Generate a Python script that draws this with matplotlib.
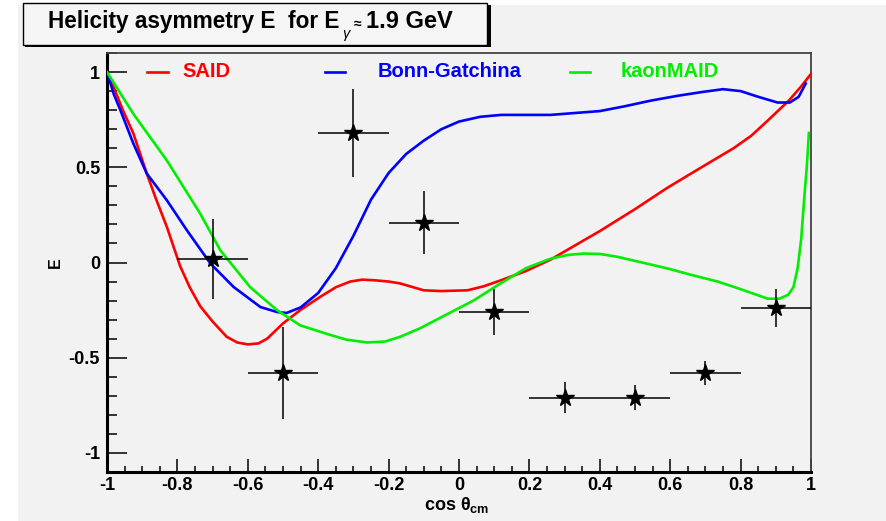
import numpy as np
import matplotlib
matplotlib.use("Agg")
import matplotlib.pyplot as plt
from matplotlib.patches import Rectangle
from matplotlib.ticker import MultipleLocator, FuncFormatter

plt.rcParams['font.family'] = ['Liberation Sans', 'DejaVu Sans']
plt.rcParams['font.weight'] = 'bold'
plt.rcParams['mathtext.fontset'] = 'custom'
plt.rcParams['mathtext.rm'] = 'Liberation Sans:bold'
plt.rcParams['mathtext.it'] = 'Liberation Sans:bold'
plt.rcParams['mathtext.bf'] = 'Liberation Sans:bold'

# data points (cos theta, E, errors)
pts_x = [-0.7, -0.5, -0.3, -0.1, 0.1, 0.3, 0.5, 0.7, 0.9]
pts_y = [0.02, -0.58, 0.68, 0.21, -0.26, -0.71, -0.71, -0.58, -0.24]
pts_yerr = [0.21, 0.24, 0.23, 0.165, 0.12, 0.08, 0.065, 0.065, 0.10]
pts_xerr = [0.1, 0.1, 0.1, 0.1, 0.1, 0.1, 0.1, 0.1, 0.1]

# model curves
said_x = [-1.0, -0.981, -0.955, -0.925, -0.887, -0.86, -0.83, -0.792, -0.765, -0.735,
          -0.7, -0.66, -0.63, -0.6, -0.57, -0.545, -0.5, -0.451, -0.394, -0.35, -0.309,
          -0.275, -0.242, -0.2, -0.167, -0.13, -0.1, -0.05, 0.024, 0.07, 0.118, 0.19,
          0.26, 0.33, 0.4, 0.5, 0.59, 0.68, 0.78, 0.83, 0.877, 0.937, 0.97, 1.0]
said_y = [1.0, 0.92, 0.80, 0.677, 0.467, 0.33, 0.187, -0.02, -0.13, -0.23,
          -0.31, -0.39, -0.42, -0.43, -0.425, -0.40, -0.32, -0.25, -0.18, -0.13, -0.10,
          -0.09, -0.093, -0.10, -0.11, -0.13, -0.146, -0.15, -0.146, -0.125, -0.094, -0.045,
          0.015, 0.09, 0.165, 0.28, 0.39, 0.49, 0.60, 0.665, 0.745, 0.85, 0.92, 0.99]

bonn_x = [-1.0, -0.981, -0.962, -0.925, -0.887, -0.83, -0.773, -0.706, -0.64, -0.564,
          -0.517, -0.49, -0.45, -0.4, -0.35, -0.3, -0.25, -0.2, -0.15, -0.1, -0.05,
          0.0, 0.06, 0.12, 0.19, 0.26, 0.33, 0.4, 0.47, 0.545, 0.62, 0.69, 0.75, 0.8,
          0.85, 0.905, 0.94, 0.965, 0.985]
bonn_y = [1.0, 0.885, 0.80, 0.624, 0.467, 0.327, 0.169, -0.006, -0.129, -0.234,
          -0.26, -0.265, -0.236, -0.16, -0.03, 0.14, 0.33, 0.47, 0.57, 0.64, 0.70,
          0.74, 0.765, 0.775, 0.775, 0.775, 0.785, 0.795, 0.82, 0.85, 0.875, 0.895, 0.91, 0.90,
          0.87, 0.84, 0.84, 0.87, 0.94]

kaon_x = [-1.0, -0.925, -0.83, -0.735, -0.678, -0.593, -0.517, -0.451, -0.375, -0.32,
          -0.261, -0.21, -0.167, -0.11, -0.053, 0.041, 0.118, 0.19, 0.26, 0.31, 0.355,
          0.4, 0.45, 0.52, 0.59, 0.66, 0.735, 0.8, 0.877, 0.91, 0.935, 0.95, 0.962,
          0.972, 0.98, 0.988, 0.994]
kaon_y = [1.0, 0.78, 0.536, 0.256, 0.064, -0.13, -0.25, -0.33, -0.375, -0.405,
          -0.42, -0.415, -0.39, -0.345, -0.29, -0.2, -0.11, -0.03, 0.02, 0.04, 0.047,
          0.045, 0.03, 0.0, -0.03, -0.065, -0.10, -0.14, -0.19, -0.19, -0.17, -0.13, -0.03,
          0.12, 0.32, 0.50, 0.68]

tick_fmt = FuncFormatter(lambda v, p: '%g' % round(v, 2))

fig = plt.figure(figsize=(8.86, 5.21), dpi=100)
fig.patch.set_facecolor('white')
W, H = 886.0, 521.0

# gray canvas
fig.patches.append(Rectangle((18 / W, 0), 1 - 18 / W, 1 - 5 / H, transform=fig.transFigure,
                             facecolor='#f2f2f2', edgecolor='none', zorder=-5))

ax = fig.add_axes([107 / W, 1 - 472 / H, 704 / W, 419 / H])
ax.set_facecolor('#f2f2f2')

ax.plot(said_x, said_y, color='#ff0000', lw=1.9, zorder=3)
ax.plot(bonn_x, bonn_y, color='#0000ff', lw=1.9, zorder=3)
ax.plot(kaon_x, kaon_y, color='#00ee00', lw=1.9, zorder=3)

ax.errorbar(pts_x, pts_y, xerr=pts_xerr, yerr=pts_yerr, fmt='*', color='black',
            ecolor='black', elinewidth=1.1, markersize=13, capsize=0, zorder=4)

ax.set_xlim(-1, 1)
ax.set_ylim(-1.1, 1.1)

ax.xaxis.set_major_locator(MultipleLocator(0.2))
ax.xaxis.set_minor_locator(MultipleLocator(0.05))
ax.yaxis.set_major_locator(MultipleLocator(0.5))
ax.yaxis.set_minor_locator(MultipleLocator(0.1))
ax.xaxis.set_major_formatter(tick_fmt)
ax.yaxis.set_major_formatter(tick_fmt)

ax.tick_params(axis='x', which='major', direction='in', length=9.5, width=1.1,
               labelsize=13, pad=3.5)
ax.tick_params(axis='x', which='minor', direction='in', length=4.5, width=1.1)
ax.tick_params(axis='y', which='major', direction='in', length=14.5, width=1.1,
               labelsize=13, pad=5)
ax.tick_params(axis='y', which='minor', direction='in', length=7.5, width=1.1)
for lab in ax.get_xticklabels() + ax.get_yticklabels():
    lab.set_fontweight('bold')

ax.spines['left'].set_linewidth(2.2)
ax.spines['bottom'].set_linewidth(2.2)
ax.spines['top'].set_linewidth(1.3)
ax.spines['right'].set_linewidth(1.3)
ax.spines['top'].set_color('#444444')
ax.spines['right'].set_color('#444444')

# axis titles
ax.text(-0.074, 0.50, 'E', transform=ax.transAxes, rotation=90, ha='center',
        va='center', fontsize=11.5, fontweight='bold')
ax.text(0.496, -0.079, r'cos $\theta_{cm}$', transform=ax.transAxes, ha='center',
        va='center', fontsize=13, fontweight='bold')

# legend
leg = [('SAID', '#ff0000', 0.057, 0.087, 0.107),
       ('Bonn-Gatchina', '#0000ff', 0.310, 0.338, 0.384),
       ('kaonMAID', '#00ee00', 0.658, 0.686, 0.729)]
for name, col, x0, x1, xt in leg:
    ax.plot([x0, x1], [0.955, 0.955], color=col, lw=1.9, transform=ax.transAxes)
    ax.text(xt, 0.955, name, color=col, transform=ax.transAxes, ha='left',
            va='center', fontsize=14.5, fontweight='bold')

# title box with shadow
fig.patches.append(Rectangle((25 / W, 1 - 47 / H), 466 / W, 42 / H, transform=fig.transFigure,
                             facecolor='black', edgecolor='none', zorder=5))
fig.patches.append(Rectangle((23 / W, 1 - 45 / H), 464 / W, 42 / H, transform=fig.transFigure,
                             facecolor='#f5f5f5', edgecolor='black', lw=1.0, zorder=6))
t1 = fig.text(48 / W, 1 - 28 / H, 'Helicity asymmetry E  for E', ha='left',
              va='baseline', fontsize=16.3, fontweight='bold', zorder=7)
fig.canvas.draw()
x_end = t1.get_window_extent().x1
t2 = fig.text((x_end + 3) / W, 1 - 38 / H, 'γ', ha='left', va='baseline',
              fontsize=10.5, fontweight='normal', style='italic', zorder=7)
fig.canvas.draw()
x_end = t2.get_window_extent().x1
t3 = fig.text((x_end + 4) / W, 1 - 28 / H, '≈', ha='left', va='baseline',
              fontsize=10, fontweight='bold', zorder=7)
fig.canvas.draw()
x_end = t3.get_window_extent().x1
fig.text((x_end + 5) / W, 1 - 28 / H, '1.9 GeV', ha='left', va='baseline',
         fontsize=17, fontweight='bold', zorder=7)

fig.savefig('out.png', dpi=100, facecolor=fig.get_facecolor())
